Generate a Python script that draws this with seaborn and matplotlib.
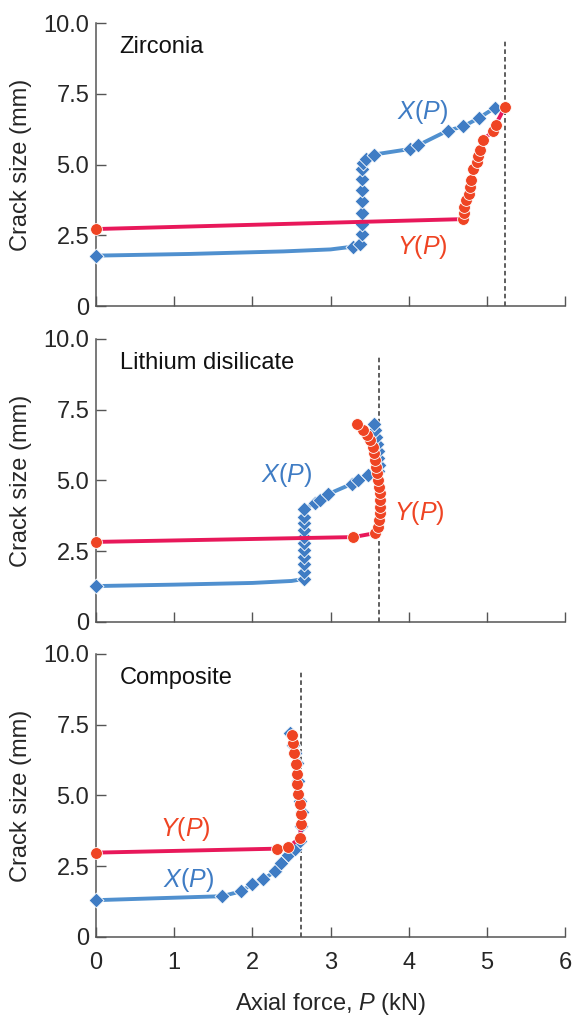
import matplotlib
matplotlib.use("Agg")
import matplotlib.pyplot as plt
import seaborn as sns

# ---- data ----
# Zirconia
zr_x_P = [0.0, 1.2, 2.4, 3.0, 3.29, 3.38, 3.40, 3.40, 3.40, 3.40, 3.40, 3.40, 3.40, 3.42, 3.45, 3.55, 4.02, 4.12, 4.50, 4.70, 4.90, 5.10]
zr_x_val = [1.78, 1.84, 1.93, 2.0, 2.1, 2.2, 2.55, 2.9, 3.3, 3.7, 4.1, 4.5, 4.85, 5.05, 5.2, 5.35, 5.55, 5.68, 6.2, 6.35, 6.65, 7.0]
zr_x_mark = [1, 0, 0, 0, 1, 1, 1, 1, 1, 1, 1, 1, 1, 1, 1, 1, 1, 1, 1, 1, 1, 1]
zr_y_P = [0.0, 4.69, 4.71, 4.71, 4.73, 4.77, 4.78, 4.80, 4.82, 4.87, 4.88, 4.91, 4.95, 5.08, 5.11, 5.23]
zr_y_val = [2.72, 3.07, 3.28, 3.5, 3.75, 3.96, 4.2, 4.45, 4.84, 5.09, 5.3, 5.51, 5.87, 6.18, 6.4, 7.03]
zr_pmax = 5.23

# Lithium disilicate
li_x_P = [0.0, 1.0, 2.0, 2.5, 2.66, 2.66, 2.66, 2.66, 2.66, 2.66, 2.66, 2.66, 2.66, 2.66, 2.66,
          2.80, 2.86, 2.97, 3.27, 3.35, 3.48, 3.60, 3.62, 3.61, 3.60, 3.59, 3.58, 3.57, 3.56]
li_x_val = [1.27, 1.32, 1.38, 1.45, 1.52, 1.77, 2.05, 2.3, 2.55, 2.8, 3.0, 3.25, 3.5, 3.7, 4.0,
            4.2, 4.3, 4.52, 4.88, 5.0, 5.2, 5.35, 5.55, 5.8, 6.05, 6.3, 6.55, 6.78, 7.0]
li_x_mark = [1, 0, 0, 0] + [1] * 25
li_y_P = [0.0, 3.29, 3.57, 3.61, 3.62, 3.63, 3.63, 3.63, 3.63, 3.62, 3.61, 3.59, 3.58, 3.57, 3.55, 3.54, 3.50, 3.47, 3.41, 3.34]
li_y_val = [2.83, 3.0, 3.14, 3.36, 3.6, 3.85, 4.07, 4.31, 4.56, 4.77, 5.02, 5.26, 5.48, 5.72, 5.97, 6.18, 6.43, 6.6, 6.78, 7.0]
li_pmax = 3.62

# Composite
co_x_P = [0.0, 0.8, 1.61, 1.85, 2.0, 2.14, 2.29, 2.37, 2.45, 2.54, 2.61, 2.62, 2.63, 2.61, 2.58, 2.57, 2.55, 2.52, 2.48]
co_x_val = [1.3, 1.37, 1.44, 1.61, 1.86, 2.04, 2.32, 2.63, 2.88, 3.12, 3.4, 3.93, 4.4, 4.8, 5.5, 6.14, 6.5, 6.8, 7.2]
co_x_mark = [1, 0] + [1] * 17
co_y_P = [0.0, 2.31, 2.46, 2.61, 2.62, 2.62, 2.61, 2.58, 2.57, 2.57, 2.56, 2.53, 2.52, 2.51]
co_y_val = [2.98, 3.12, 3.18, 3.5, 4.0, 4.35, 4.7, 5.05, 5.4, 5.75, 6.1, 6.5, 6.84, 7.12]
co_pmax = 2.62

materials = ["Zirconia", "Lithium disilicate", "Composite"]
x_ticks = [0, 1, 2, 3, 4, 5, 6]
y_ticks = [0, 2.5, 5.0, 7.5, 10.0]
y_ticklabels = ["0", "2.5", "5.0", "7.5", "10.0"]

# label spots (P, crack size) for X(P) and Y(P)
x_lab_pos = [(4.17, 6.85), (2.43, 5.2), (1.18, 2.03)]
y_lab_pos = [(4.17, 2.08), (4.14, 3.85), (1.14, 3.82)]

# ---- style ----
sns.set_style("ticks")
plt.rcParams["font.family"] = ["Liberation Sans", "DejaVu Sans"]
plt.rcParams["mathtext.fontset"] = "custom"
plt.rcParams["mathtext.rm"] = "Liberation Sans"
plt.rcParams["mathtext.it"] = "Liberation Sans:italic"

blue_line = "#5090cf"
blue_mark = "#3f7cc4"
red_line = "#e8185a"
red_mark = "#ef4423"
spine_col = "#555555"
fs = 17

fig = plt.figure(figsize=(5.79, 10.18), dpi=100)
bottoms = [0.6994, 0.389, 0.0796]

series = [
    (zr_x_P, zr_x_val, zr_x_mark, zr_y_P, zr_y_val, zr_pmax),
    (li_x_P, li_x_val, li_x_mark, li_y_P, li_y_val, li_pmax),
    (co_x_P, co_x_val, co_x_mark, co_y_P, co_y_val, co_pmax),
]

for i, (xP, xv, xm, yP, yv, pmax) in enumerate(series):
    ax = fig.add_axes([0.166, bottoms[i], 0.81, 0.278])

    ax.axvline(pmax, ymin=0, ymax=0.935, color="#333333", ls=(0, (3, 2)), lw=1.1, zorder=1)

    # X(P)
    sns.lineplot(x=xP, y=xv, sort=False, estimator=None, color=blue_line, lw=2.8, ax=ax, zorder=2)
    mx = [p for p, m in zip(xP, xm) if m]
    my = [v for v, m in zip(xv, xm) if m]
    sns.scatterplot(x=mx, y=my, marker="D", s=58, color=blue_mark, edgecolor="white",
                    linewidth=0.6, ax=ax, zorder=3, clip_on=False)

    # Y(P)
    sns.lineplot(x=yP, y=yv, sort=False, estimator=None, color=red_line, lw=2.8, ax=ax, zorder=4)
    sns.scatterplot(x=yP, y=yv, marker="o", s=72, color=red_mark, edgecolor="white",
                    linewidth=0.6, ax=ax, zorder=5, clip_on=False)

    ax.set_xlim(0, 6)
    ax.set_ylim(0, 10)
    ax.set_xticks(x_ticks)
    ax.set_yticks(y_ticks)
    ax.set_yticklabels(y_ticklabels)
    if i < 2:
        ax.set_xticklabels([])
    else:
        ax.set_xlabel(r"Axial force, $P$ (kN)", fontsize=fs, labelpad=12)
    ax.set_ylabel("Crack size (mm)", fontsize=fs, labelpad=8)
    ax.tick_params(direction="in", length=7, width=1, color=spine_col, labelsize=fs)
    ax.tick_params(axis="y", pad=5)
    ax.tick_params(axis="x", pad=11)
    for s in ["top", "right"]:
        ax.spines[s].set_visible(False)
    for s in ["left", "bottom"]:
        ax.spines[s].set_color(spine_col)
        ax.spines[s].set_linewidth(1.1)

    ax.text(0.3, 9.15, materials[i], fontsize=fs, va="center", ha="left", color="#111111")
    ax.text(*x_lab_pos[i], r"$X$($P$)", fontsize=18, color=blue_mark, ha="center", va="center")
    ax.text(*y_lab_pos[i], r"$Y$($P$)", fontsize=18, color=red_mark, ha="center", va="center")
    if ax.get_legend():
        ax.get_legend().remove()

fig.savefig("out.png", dpi=100)
